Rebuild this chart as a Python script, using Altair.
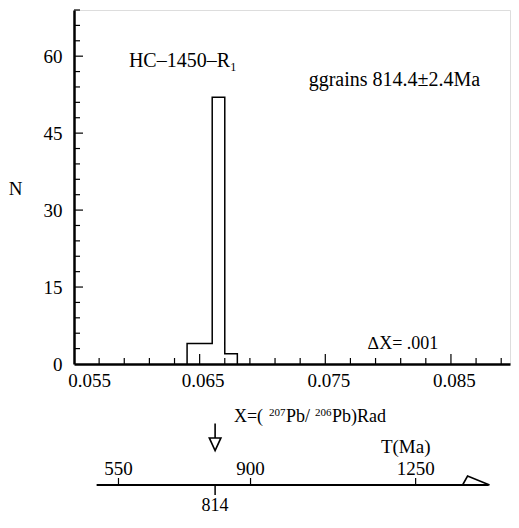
import altair as alt
import pandas as pd

# ---- data ----
bin_lo = [0.064, 0.065, 0.066, 0.067]   # lower edges of the histogram bins
bin_n = [4, 4, 52, 2]                   # counts per bin
bin_w = 0.001                           # bin width (ΔX)

x_major = [0.055, 0.065, 0.075, 0.085]
x_minor = [0.057, 0.059, 0.061, 0.063, 0.067, 0.069, 0.071, 0.073,
           0.077, 0.079, 0.081, 0.083, 0.087, 0.089]
y_major = [0, 15, 30, 45, 60]
y_minor = [3, 6, 9, 12, 18, 21, 24, 27, 33, 36, 39, 42, 48, 51, 54, 57, 63, 66, 69]

t_ages = [550, 900, 1250]               # age scale labels (Ma)
t_ratio = [0.05854, 0.06905, 0.08219]   # their 207Pb/206Pb positions
mean_age = [814]
mean_ratio = [0.06623]
t_line = [0.0568, 0.0880]               # extent of the age line

X_DOMAIN = [0.055, 0.0897]
Y_DOMAIN = [0, 69]
FONT = "Liberation Serif"
W, H = 436, 354

# step outline of the histogram
sx, sn = [bin_lo[0]], [0]
for lo, n in zip(bin_lo, bin_n):
    sx.append(lo)
    sn.append(n)
sx.append(bin_lo[-1] + bin_w)
sn.append(0)
hist = pd.DataFrame({"x": sx, "y": sn, "i": list(range(len(sx)))})

x_axis = alt.Axis(values=x_major, format=".3f", ticks=False, grid=False,
                  domainWidth=2.5, domainColor="black", labelFont=FONT,
                  labelFontSize=19, labelColor="black", labelPadding=7,
                  labelFlush=False, labelOverlap=False,
                  labelOffset={"condition": {"test": "datum.value < 0.06", "value": 15}, "value": 3},
                  title=None)
y_axis = alt.Axis(values=y_major, ticks=False, grid=False, domainWidth=2.5,
                  domainColor="black", labelFont=FONT, labelFontSize=19,
                  labelColor="black", labelPadding=12, labelFlush=False,
                  title="N", titleAngle=0, titleFont=FONT, titleFontSize=19,
                  titleFontWeight="normal", titleX=-59, titleY=178,
                  titleAlign="center", titleBaseline="middle", titleColor="black")


def X(field="x"):
    return alt.X(f"{field}:Q", scale=alt.Scale(domain=X_DOMAIN, nice=False, zero=False),
                 axis=x_axis)


def Y(field="y"):
    return alt.Y(f"{field}:Q", scale=alt.Scale(domain=Y_DOMAIN, nice=False), axis=y_axis)


step = alt.Chart(hist).mark_line(interpolate="step-after", color="black",
                                 strokeWidth=1.5).encode(x=X(), y=Y(), order="i:Q")

xmin_df = pd.DataFrame({"x": x_minor})
xmaj_df = pd.DataFrame({"x": x_major[1:]})
ymin_df = pd.DataFrame({"y": y_minor})
ymaj_df = pd.DataFrame({"y": y_major[1:]})

xt_min = alt.Chart(xmin_df).mark_rule(color="black", strokeWidth=1.2).encode(
    x=X(), y=alt.value(H), y2=alt.value(H - 6))
xt_maj = alt.Chart(xmaj_df).mark_rule(color="black", strokeWidth=1.2).encode(
    x=X(), y=alt.value(H), y2=alt.value(H - 10))
yt_min = alt.Chart(ymin_df).mark_rule(color="black", strokeWidth=1.2).encode(
    y=Y(), x=alt.value(0), x2=alt.value(6))
yt_maj = alt.Chart(ymaj_df).mark_rule(color="black", strokeWidth=1.2).encode(
    y=Y(), x=alt.value(0), x2=alt.value(9))

# in-plot annotations (data coordinates)
ann = pd.DataFrame({
    "x": [0.06367, 0.0805, 0.0812],
    "y": [59.0, 55.4, 3.9],
    "t": ["HC–1450–R₁", "ggrains 814.4±2.4Ma", "∆X= .001"],
    "s": [20, 20, 18],
})
ann_layer = alt.Chart(ann).mark_text(font=FONT, color="black", align="center",
                                     baseline="middle").encode(
    x=X(), y=Y(), text="t:N", size=alt.Size("s:Q", scale=None, legend=None))

# ---- age scale below the axis ----
LINE_Y = H + 121
line_df = pd.DataFrame({"x": [t_line[0]], "x2": [t_line[1]]})
age_line = alt.Chart(line_df).mark_rule(color="black", strokeWidth=2).encode(
    x=X(), x2="x2:Q", y=alt.value(LINE_Y))

age_df = pd.DataFrame({"x": t_ratio, "t": [str(a) for a in t_ages]})
age_ticks = alt.Chart(age_df).mark_rule(color="black", strokeWidth=1.2).encode(
    x=X(), y=alt.value(LINE_Y), y2=alt.value(LINE_Y - 7))
age_labels = alt.Chart(age_df).mark_text(font=FONT, fontSize=19, color="black",
                                         baseline="middle").encode(
    x=X(), y=alt.value(LINE_Y - 16), text="t:N")

mean_df = pd.DataFrame({"x": mean_ratio, "t": [str(a) for a in mean_age]})
mean_tick = alt.Chart(mean_df).mark_rule(color="black", strokeWidth=1.5).encode(
    x=X(), y=alt.value(LINE_Y), y2=alt.value(LINE_Y + 10))
mean_label = alt.Chart(mean_df).mark_text(font=FONT, fontSize=18, color="black",
                                          baseline="middle").encode(
    x=X(), y=alt.value(LINE_Y + 21), text="t:N")
arrow = alt.Chart(mean_df).mark_point(
    shape="M 0 -1 L 0 0.07 M -0.43 0.07 L 0.43 0.07 L 0 1 Z",
    size=729, filled=False, color="black", strokeWidth=1.6, opacity=1).encode(
    x=X(), y=alt.value(H + 73))

# "X=(207Pb/206Pb)Rad" built from pieces so the mass numbers are superscripts
lab_x = 0.06773
pieces = [("X=(", 0, 18, 0), ("207", 35, 11, -6), ("Pb/", 52, 18, 0),
          ("206", 81, 11, -6), ("Pb)Rad", 98, 18, 0)]
LAB_BASE = H + 58
lab_layers = []
for txt, dx, fs, dy in pieces:
    d = pd.DataFrame({"x": [lab_x], "t": [txt]})
    lab_layers.append(
        alt.Chart(d).mark_text(font=FONT, fontSize=fs, color="black", align="left",
                               baseline="alphabetic", dx=dx).encode(
            x=X(), y=alt.value(LAB_BASE + dy), text="t:N"))

tma_df = pd.DataFrame({"x": [0.0814], "t": ["T(Ma)"]})
tma = alt.Chart(tma_df).mark_text(font=FONT, fontSize=19, color="black",
                                  align="center", baseline="middle").encode(
    x=X(), y=alt.value(LINE_Y - 38), text="t:N")

end_df = pd.DataFrame({"x": [0.0870]})
end_mark = alt.Chart(end_df).mark_point(
    shape="M -1 0.333 L -0.63 -0.333 L 1 0.333", size=729, filled=False,
    color="black", strokeWidth=1.6, opacity=1).encode(x=X(), y=alt.value(LINE_Y - 4.5))

chart = alt.layer(
    step, xt_min, xt_maj, yt_min, yt_maj, ann_layer,
    age_line, age_ticks, age_labels, mean_tick, mean_label, arrow, tma, end_mark,
    *lab_layers
).properties(
    width=W, height=H,
    padding={"left": 66, "top": 2, "right": 1, "bottom": 150},
    autosize=alt.AutoSizeParams(type="none"),
).configure_view(stroke="black", strokeWidth=1.5).configure(background="white")

chart.save("out.html", embed_options={"renderer": "svg", "actions": False})
